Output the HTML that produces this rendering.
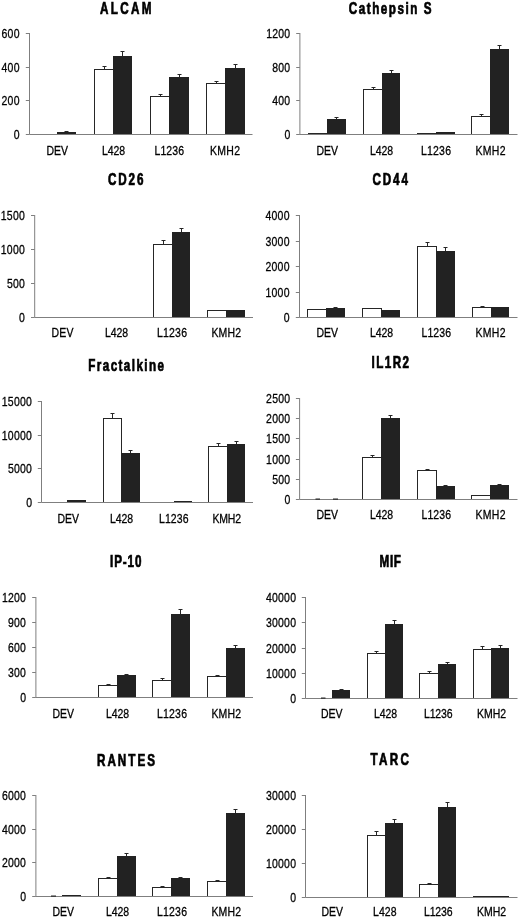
<!DOCTYPE html>
<html><head><meta charset="utf-8"><title>Figure</title>
<style>
html,body{margin:0;padding:0;background:#fff;}
body{width:520px;height:918px;overflow:hidden;font-family:"Liberation Sans",sans-serif;}
svg{display:block;will-change:transform;}
.t{font-family:"Liberation Sans",sans-serif;font-weight:bold;font-size:16px;fill:#000;stroke:#000;stroke-width:0.7px;}
.l{font-family:"Liberation Sans",sans-serif;font-size:13.1px;fill:#000;stroke:#000;stroke-width:0.3px;}
</style></head><body>
<svg width="520" height="918" viewBox="0 0 520 918">
<rect width="520" height="918" fill="#fff"/>

<!-- ALCAM -->
<g>
<text class="t" transform="translate(100 14) scale(0.73 1)" textLength="70.55" lengthAdjust="spacing">ALCAM</text>
<rect x="57" y="132" width="19" height="3" fill="#222222"/>
<path d="M66.5 132 V131 M64.5 131.5 H68.5" stroke="#262626" stroke-width="1" fill="none"/>
<rect x="94.5" y="69.5" width="19" height="65" fill="#fff" stroke="#262626" stroke-width="1"/>
<path d="M104.5 69 V66 M102.5 66.5 H106.5" stroke="#262626" stroke-width="1" fill="none"/>
<rect x="113" y="56" width="19" height="79" fill="#222222"/>
<path d="M122.5 56 V51 M120.5 51.5 H124.5" stroke="#262626" stroke-width="1" fill="none"/>
<rect x="150.5" y="96.5" width="19" height="38" fill="#fff" stroke="#262626" stroke-width="1"/>
<path d="M160.5 96 V94 M158.5 94.5 H162.5" stroke="#262626" stroke-width="1" fill="none"/>
<rect x="169" y="77" width="20" height="58" fill="#222222"/>
<path d="M179.5 77 V74 M177.5 74.5 H181.5" stroke="#262626" stroke-width="1" fill="none"/>
<rect x="206.5" y="83.5" width="19" height="51" fill="#fff" stroke="#262626" stroke-width="1"/>
<path d="M216.5 83 V81 M214.5 81.5 H218.5" stroke="#262626" stroke-width="1" fill="none"/>
<rect x="225" y="68" width="20" height="67" fill="#222222"/>
<path d="M235.5 68 V64 M233.5 64.5 H237.5" stroke="#262626" stroke-width="1" fill="none"/>
<path d="M29.5 33 V134.5 H252.5" stroke="#7f7f7f" stroke-width="1" fill="none"/>
<text class="l" transform="translate(13.8 139) scale(0.8 1)" textLength="7.12" lengthAdjust="spacing">0</text>
<text class="l" transform="translate(1.6 105) scale(0.8 1)" textLength="22.37" lengthAdjust="spacing">200</text>
<text class="l" transform="translate(1.6 72) scale(0.8 1)" textLength="22.37" lengthAdjust="spacing">400</text>
<text class="l" transform="translate(1.6 38) scale(0.8 1)" textLength="22.37" lengthAdjust="spacing">600</text>
<path d="M25.8 134.5H29.5 M25.8 100.5H29.5 M25.8 67.5H29.5 M25.8 33.5H29.5" stroke="#7f7f7f" stroke-width="1" fill="none"/>
<text class="l" transform="translate(46.5 154.5) scale(0.8 1)" textLength="26.88" lengthAdjust="spacing">DEV</text>
<text class="l" transform="translate(102 154.5) scale(0.8 1)" textLength="28.75" lengthAdjust="spacing">L428</text>
<text class="l" transform="translate(154.5 154.5) scale(0.8 1)" textLength="36.88" lengthAdjust="spacing">L1236</text>
<text class="l" transform="translate(210 154.5) scale(0.8 1)" textLength="37.5" lengthAdjust="spacing">KMH2</text>
</g>
<!-- Cathepsin S -->
<g>
<text class="t" transform="translate(348.8 13.6) scale(0.73 1)" textLength="113.29" lengthAdjust="spacing">Cathepsin S</text>
<rect x="308.5" y="133.5" width="19" height="1" fill="#fff" stroke="#262626" stroke-width="1"/>
<rect x="327" y="119" width="19" height="16" fill="#222222"/>
<path d="M336.5 119 V117 M334.5 117.5 H338.5" stroke="#262626" stroke-width="1" fill="none"/>
<rect x="363.5" y="89.5" width="19" height="45" fill="#fff" stroke="#262626" stroke-width="1"/>
<path d="M373.5 89 V87 M371.5 87.5 H375.5" stroke="#262626" stroke-width="1" fill="none"/>
<rect x="382" y="73" width="18" height="62" fill="#222222"/>
<path d="M391.5 73 V70 M389.5 70.5 H393.5" stroke="#262626" stroke-width="1" fill="none"/>
<rect x="417.5" y="133.5" width="19" height="1" fill="#fff" stroke="#262626" stroke-width="1"/>
<rect x="436" y="132" width="19" height="3" fill="#222222"/>
<rect x="471.5" y="116.5" width="19" height="18" fill="#fff" stroke="#262626" stroke-width="1"/>
<path d="M481.5 116 V114 M479.5 114.5 H483.5" stroke="#262626" stroke-width="1" fill="none"/>
<rect x="490" y="49" width="19" height="86" fill="#222222"/>
<path d="M499.5 49 V45 M497.5 45.5 H501.5" stroke="#262626" stroke-width="1" fill="none"/>
<path d="M299.9 33 V134.5 H517.5" stroke="#7f7f7f" stroke-width="1" fill="none"/>
<text class="l" transform="translate(284.5 139) scale(0.8 1)" textLength="7.12" lengthAdjust="spacing">0</text>
<text class="l" transform="translate(272.3 105) scale(0.8 1)" textLength="22.37" lengthAdjust="spacing">400</text>
<text class="l" transform="translate(272.3 72) scale(0.8 1)" textLength="22.37" lengthAdjust="spacing">800</text>
<text class="l" transform="translate(266.2 38) scale(0.8 1)" textLength="30" lengthAdjust="spacing">1200</text>
<path d="M296.2 134.5H299.9 M296.2 100.5H299.9 M296.2 67.5H299.9 M296.2 33.5H299.9" stroke="#7f7f7f" stroke-width="1" fill="none"/>
<text class="l" transform="translate(316.5 154.5) scale(0.8 1)" textLength="26.88" lengthAdjust="spacing">DEV</text>
<text class="l" transform="translate(370 154.5) scale(0.8 1)" textLength="28.75" lengthAdjust="spacing">L428</text>
<text class="l" transform="translate(421 154.5) scale(0.8 1)" textLength="37.5" lengthAdjust="spacing">L1236</text>
<text class="l" transform="translate(475.5 154.5) scale(0.8 1)" textLength="37.5" lengthAdjust="spacing">KMH2</text>
</g>
<!-- CD26 -->
<g>
<text class="t" transform="translate(108 184.5) scale(0.73 1)" textLength="48.63" lengthAdjust="spacing">CD26</text>
<rect x="153.5" y="244.5" width="19" height="73" fill="#fff" stroke="#262626" stroke-width="1"/>
<path d="M163.5 244 V240 M161.5 240.5 H165.5" stroke="#262626" stroke-width="1" fill="none"/>
<rect x="172" y="232" width="18" height="86" fill="#222222"/>
<path d="M181.5 232 V228 M179.5 228.5 H183.5" stroke="#262626" stroke-width="1" fill="none"/>
<rect x="207.5" y="310.5" width="19" height="7" fill="#fff" stroke="#262626" stroke-width="1"/>
<rect x="226" y="310" width="19" height="8" fill="#222222"/>
<path d="M34.7 215 V317.5 H253" stroke="#7f7f7f" stroke-width="1" fill="none"/>
<text class="l" transform="translate(19.1 322) scale(0.8 1)" textLength="7.12" lengthAdjust="spacing">0</text>
<text class="l" transform="translate(6.9 288) scale(0.8 1)" textLength="22.37" lengthAdjust="spacing">500</text>
<text class="l" transform="translate(0.8 254) scale(0.8 1)" textLength="30" lengthAdjust="spacing">1000</text>
<text class="l" transform="translate(0.8 220) scale(0.8 1)" textLength="30" lengthAdjust="spacing">1500</text>
<path d="M31 317.5H34.7 M31 283.5H34.7 M31 249.5H34.7 M31 215.5H34.7" stroke="#7f7f7f" stroke-width="1" fill="none"/>
<text class="l" transform="translate(51.5 337) scale(0.8 1)" textLength="27.5" lengthAdjust="spacing">DEV</text>
<text class="l" transform="translate(105 337) scale(0.8 1)" textLength="28.75" lengthAdjust="spacing">L428</text>
<text class="l" transform="translate(157 337) scale(0.8 1)" textLength="37.5" lengthAdjust="spacing">L1236</text>
<text class="l" transform="translate(211.5 337) scale(0.8 1)" textLength="36.88" lengthAdjust="spacing">KMH2</text>
</g>
<!-- CD44 -->
<g>
<text class="t" transform="translate(372.5 184.5) scale(0.73 1)" textLength="48.63" lengthAdjust="spacing">CD44</text>
<rect x="307.5" y="309.5" width="19" height="8" fill="#fff" stroke="#262626" stroke-width="1"/>
<rect x="326" y="308" width="19" height="10" fill="#222222"/>
<path d="M335.5 308 V307 M333.5 307.5 H337.5" stroke="#262626" stroke-width="1" fill="none"/>
<rect x="362.5" y="308.5" width="19" height="9" fill="#fff" stroke="#262626" stroke-width="1"/>
<rect x="381" y="310" width="19" height="8" fill="#222222"/>
<rect x="417.5" y="246.5" width="19" height="71" fill="#fff" stroke="#262626" stroke-width="1"/>
<path d="M427.5 246 V242 M425.5 242.5 H429.5" stroke="#262626" stroke-width="1" fill="none"/>
<rect x="436" y="251" width="19" height="67" fill="#222222"/>
<path d="M445.5 251 V247 M443.5 247.5 H447.5" stroke="#262626" stroke-width="1" fill="none"/>
<rect x="472.5" y="307.5" width="19" height="10" fill="#fff" stroke="#262626" stroke-width="1"/>
<path d="M482.5 307 V306 M480.5 306.5 H484.5" stroke="#262626" stroke-width="1" fill="none"/>
<rect x="491" y="307" width="18" height="11" fill="#222222"/>
<path d="M299.5 215 V317.5 H517.5" stroke="#7f7f7f" stroke-width="1" fill="none"/>
<text class="l" transform="translate(283.8 322) scale(0.8 1)" textLength="7.12" lengthAdjust="spacing">0</text>
<text class="l" transform="translate(265.5 297) scale(0.8 1)" textLength="30" lengthAdjust="spacing">1000</text>
<text class="l" transform="translate(265.5 271) scale(0.8 1)" textLength="30" lengthAdjust="spacing">2000</text>
<text class="l" transform="translate(265.5 246) scale(0.8 1)" textLength="30" lengthAdjust="spacing">3000</text>
<text class="l" transform="translate(265.5 220) scale(0.8 1)" textLength="30" lengthAdjust="spacing">4000</text>
<path d="M295.8 317.5H299.5 M295.8 292.5H299.5 M295.8 266.5H299.5 M295.8 241.5H299.5 M295.8 215.5H299.5" stroke="#7f7f7f" stroke-width="1" fill="none"/>
<text class="l" transform="translate(316.5 337) scale(0.8 1)" textLength="26.88" lengthAdjust="spacing">DEV</text>
<text class="l" transform="translate(370 337) scale(0.8 1)" textLength="28.75" lengthAdjust="spacing">L428</text>
<text class="l" transform="translate(421.5 337) scale(0.8 1)" textLength="36.88" lengthAdjust="spacing">L1236</text>
<text class="l" transform="translate(475.5 337) scale(0.8 1)" textLength="37.5" lengthAdjust="spacing">KMH2</text>
</g>
<!-- Fractalkine -->
<g>
<text class="t" transform="translate(88.3 370.6) scale(0.73 1)" textLength="103.7" lengthAdjust="spacing">Fractalkine</text>
<rect x="67" y="500" width="19" height="3" fill="#222222"/>
<rect x="103.5" y="418.5" width="18" height="84" fill="#fff" stroke="#262626" stroke-width="1"/>
<path d="M112.5 418 V413 M110.5 413.5 H114.5" stroke="#262626" stroke-width="1" fill="none"/>
<rect x="121" y="453" width="19" height="50" fill="#222222"/>
<path d="M130.5 453 V450 M128.5 450.5 H132.5" stroke="#262626" stroke-width="1" fill="none"/>
<rect x="174" y="501" width="18" height="2" fill="#222222"/>
<rect x="208.5" y="446.5" width="19" height="56" fill="#fff" stroke="#262626" stroke-width="1"/>
<path d="M218.5 446 V443 M216.5 443.5 H220.5" stroke="#262626" stroke-width="1" fill="none"/>
<rect x="227" y="444" width="18" height="59" fill="#222222"/>
<path d="M236.5 444 V441 M234.5 441.5 H238.5" stroke="#262626" stroke-width="1" fill="none"/>
<path d="M41.5 401 V502.5 H253" stroke="#7f7f7f" stroke-width="1" fill="none"/>
<text class="l" transform="translate(26.2 507) scale(0.8 1)" textLength="7.12" lengthAdjust="spacing">0</text>
<text class="l" transform="translate(7.9 473) scale(0.8 1)" textLength="30" lengthAdjust="spacing">5000</text>
<text class="l" transform="translate(1.8 440) scale(0.8 1)" textLength="37.62" lengthAdjust="spacing">10000</text>
<text class="l" transform="translate(1.8 406) scale(0.8 1)" textLength="37.62" lengthAdjust="spacing">15000</text>
<path d="M37.8 502.5H41.5 M37.8 468.5H41.5 M37.8 435.5H41.5 M37.8 401.5H41.5" stroke="#7f7f7f" stroke-width="1" fill="none"/>
<text class="l" transform="translate(57.5 523) scale(0.8 1)" textLength="26.88" lengthAdjust="spacing">DEV</text>
<text class="l" transform="translate(110 523) scale(0.8 1)" textLength="28.75" lengthAdjust="spacing">L428</text>
<text class="l" transform="translate(159 523) scale(0.8 1)" textLength="36.88" lengthAdjust="spacing">L1236</text>
<text class="l" transform="translate(212.5 523) scale(0.8 1)" textLength="35.62" lengthAdjust="spacing">KMH2</text>
</g>
<!-- IL1R2 -->
<g>
<text class="t" transform="translate(371.5 367.5) scale(0.73 1)" textLength="51.37" lengthAdjust="spacing">IL1R2</text>
<rect x="362.5" y="457.5" width="19" height="42" fill="#fff" stroke="#262626" stroke-width="1"/>
<path d="M372.5 457 V455 M370.5 455.5 H374.5" stroke="#262626" stroke-width="1" fill="none"/>
<rect x="381" y="418" width="19" height="82" fill="#222222"/>
<path d="M390.5 418 V415 M388.5 415.5 H392.5" stroke="#262626" stroke-width="1" fill="none"/>
<rect x="417.5" y="470.5" width="19" height="29" fill="#fff" stroke="#262626" stroke-width="1"/>
<path d="M427.5 470 V469 M425.5 469.5 H429.5" stroke="#262626" stroke-width="1" fill="none"/>
<rect x="436" y="486" width="19" height="14" fill="#222222"/>
<path d="M445.5 486 V485 M443.5 485.5 H447.5" stroke="#262626" stroke-width="1" fill="none"/>
<rect x="471.5" y="495.5" width="19" height="4" fill="#fff" stroke="#262626" stroke-width="1"/>
<rect x="490" y="485" width="19" height="15" fill="#222222"/>
<path d="M499.5 485 V484 M497.5 484.5 H501.5" stroke="#262626" stroke-width="1" fill="none"/>
<path d="M299.6 398 V499.5 H517.5" stroke="#7f7f7f" stroke-width="1" fill="none"/>
<text class="l" transform="translate(284.4 504) scale(0.8 1)" textLength="7.12" lengthAdjust="spacing">0</text>
<text class="l" transform="translate(272.2 484) scale(0.8 1)" textLength="22.37" lengthAdjust="spacing">500</text>
<text class="l" transform="translate(266.1 464) scale(0.8 1)" textLength="30" lengthAdjust="spacing">1000</text>
<text class="l" transform="translate(266.1 443) scale(0.8 1)" textLength="30" lengthAdjust="spacing">1500</text>
<text class="l" transform="translate(266.1 423) scale(0.8 1)" textLength="30" lengthAdjust="spacing">2000</text>
<text class="l" transform="translate(266.1 403) scale(0.8 1)" textLength="30" lengthAdjust="spacing">2500</text>
<path d="M295.9 499.5H299.6 M295.9 479.5H299.6 M295.9 459.5H299.6 M295.9 438.5H299.6 M295.9 418.5H299.6 M295.9 398.5H299.6" stroke="#7f7f7f" stroke-width="1" fill="none"/>
<path d="M315.5 499.1H320" stroke="#262626" stroke-width="1.2" fill="none"/>
<path d="M333 499.1H338" stroke="#262626" stroke-width="1.2" fill="none"/>
<text class="l" transform="translate(316.5 519) scale(0.8 1)" textLength="26.88" lengthAdjust="spacing">DEV</text>
<text class="l" transform="translate(370 519) scale(0.8 1)" textLength="28.75" lengthAdjust="spacing">L428</text>
<text class="l" transform="translate(421.5 519) scale(0.8 1)" textLength="36.88" lengthAdjust="spacing">L1236</text>
<text class="l" transform="translate(475.5 519) scale(0.8 1)" textLength="37.5" lengthAdjust="spacing">KMH2</text>
</g>
<!-- IP-10 -->
<g>
<text class="t" transform="translate(110 566.5) scale(0.73 1)" textLength="43.15" lengthAdjust="spacing">IP-10</text>
<rect x="98.5" y="685.5" width="19" height="12" fill="#fff" stroke="#262626" stroke-width="1"/>
<path d="M108.5 685 V684 M106.5 684.5 H110.5" stroke="#262626" stroke-width="1" fill="none"/>
<rect x="117" y="675" width="19" height="23" fill="#222222"/>
<path d="M126.5 675 V674 M124.5 674.5 H128.5" stroke="#262626" stroke-width="1" fill="none"/>
<rect x="152.5" y="680.5" width="19" height="17" fill="#fff" stroke="#262626" stroke-width="1"/>
<path d="M162.5 680 V678 M160.5 678.5 H164.5" stroke="#262626" stroke-width="1" fill="none"/>
<rect x="171" y="614" width="19" height="84" fill="#222222"/>
<path d="M180.5 614 V609 M178.5 609.5 H182.5" stroke="#262626" stroke-width="1" fill="none"/>
<rect x="207.5" y="676.5" width="19" height="21" fill="#fff" stroke="#262626" stroke-width="1"/>
<path d="M217.5 676 V675 M215.5 675.5 H219.5" stroke="#262626" stroke-width="1" fill="none"/>
<rect x="226" y="648" width="19" height="50" fill="#222222"/>
<path d="M235.5 648 V645 M233.5 645.5 H237.5" stroke="#262626" stroke-width="1" fill="none"/>
<path d="M35.9 597 V697.5 H253" stroke="#7f7f7f" stroke-width="1" fill="none"/>
<text class="l" transform="translate(20.2 702) scale(0.8 1)" textLength="7.12" lengthAdjust="spacing">0</text>
<text class="l" transform="translate(8 677) scale(0.8 1)" textLength="22.37" lengthAdjust="spacing">300</text>
<text class="l" transform="translate(8 652) scale(0.8 1)" textLength="22.37" lengthAdjust="spacing">600</text>
<text class="l" transform="translate(8 627) scale(0.8 1)" textLength="22.37" lengthAdjust="spacing">900</text>
<text class="l" transform="translate(1.9 602) scale(0.8 1)" textLength="30" lengthAdjust="spacing">1200</text>
<path d="M32.2 697.5H35.9 M32.2 672.5H35.9 M32.2 647.5H35.9 M32.2 622.5H35.9 M32.2 597.5H35.9" stroke="#7f7f7f" stroke-width="1" fill="none"/>
<text class="l" transform="translate(52.5 717.5) scale(0.8 1)" textLength="26.88" lengthAdjust="spacing">DEV</text>
<text class="l" transform="translate(106 717.5) scale(0.8 1)" textLength="28.75" lengthAdjust="spacing">L428</text>
<text class="l" transform="translate(157 717.5) scale(0.8 1)" textLength="37.5" lengthAdjust="spacing">L1236</text>
<text class="l" transform="translate(211.5 717.5) scale(0.8 1)" textLength="36.88" lengthAdjust="spacing">KMH2</text>
</g>
<!-- MIF -->
<g>
<text class="t" transform="translate(379.5 566.5) scale(0.73 1)" textLength="29.45" lengthAdjust="spacing">MIF</text>
<rect x="332" y="690" width="18" height="9" fill="#222222"/>
<path d="M341.5 690 V689 M339.5 689.5 H343.5" stroke="#262626" stroke-width="1" fill="none"/>
<rect x="367.5" y="653.5" width="18" height="45" fill="#fff" stroke="#262626" stroke-width="1"/>
<path d="M376.5 653 V651 M374.5 651.5 H378.5" stroke="#262626" stroke-width="1" fill="none"/>
<rect x="385" y="624" width="18" height="75" fill="#222222"/>
<path d="M394.5 624 V620 M392.5 620.5 H396.5" stroke="#262626" stroke-width="1" fill="none"/>
<rect x="419.5" y="673.5" width="19" height="25" fill="#fff" stroke="#262626" stroke-width="1"/>
<path d="M429.5 673 V671 M427.5 671.5 H431.5" stroke="#262626" stroke-width="1" fill="none"/>
<rect x="438" y="664" width="18" height="35" fill="#222222"/>
<path d="M447.5 664 V662 M445.5 662.5 H449.5" stroke="#262626" stroke-width="1" fill="none"/>
<rect x="473.5" y="649.5" width="18" height="49" fill="#fff" stroke="#262626" stroke-width="1"/>
<path d="M482.5 649 V646 M480.5 646.5 H484.5" stroke="#262626" stroke-width="1" fill="none"/>
<rect x="491" y="648" width="18" height="51" fill="#222222"/>
<path d="M500.5 648 V645 M498.5 645.5 H502.5" stroke="#262626" stroke-width="1" fill="none"/>
<path d="M305.5 597 V698.5 H517.5" stroke="#7f7f7f" stroke-width="1" fill="none"/>
<text class="l" transform="translate(290.3 703) scale(0.8 1)" textLength="7.12" lengthAdjust="spacing">0</text>
<text class="l" transform="translate(265.9 678) scale(0.8 1)" textLength="37.63" lengthAdjust="spacing">10000</text>
<text class="l" transform="translate(265.9 653) scale(0.8 1)" textLength="37.63" lengthAdjust="spacing">20000</text>
<text class="l" transform="translate(265.9 627) scale(0.8 1)" textLength="37.63" lengthAdjust="spacing">30000</text>
<text class="l" transform="translate(265.9 602) scale(0.8 1)" textLength="37.63" lengthAdjust="spacing">40000</text>
<path d="M301.8 698.5H305.5 M301.8 673.5H305.5 M301.8 648.5H305.5 M301.8 622.5H305.5 M301.8 597.5H305.5" stroke="#7f7f7f" stroke-width="1" fill="none"/>
<path d="M321 698.1H325.5" stroke="#262626" stroke-width="1.2" fill="none"/>
<text class="l" transform="translate(321 718) scale(0.8 1)" textLength="26.88" lengthAdjust="spacing">DEV</text>
<text class="l" transform="translate(374 718) scale(0.8 1)" textLength="28.75" lengthAdjust="spacing">L428</text>
<text class="l" transform="translate(424 718) scale(0.8 1)" textLength="35.62" lengthAdjust="spacing">L1236</text>
<text class="l" transform="translate(477 718) scale(0.8 1)" textLength="36.25" lengthAdjust="spacing">KMH2</text>
</g>
<!-- RANTES -->
<g>
<text class="t" transform="translate(97 765.5) scale(0.73 1)" textLength="79.45" lengthAdjust="spacing">RANTES</text>
<rect x="62" y="895" width="19" height="2" fill="#222222"/>
<rect x="98.5" y="878.5" width="19" height="18" fill="#fff" stroke="#262626" stroke-width="1"/>
<path d="M108.5 878 V877 M106.5 877.5 H110.5" stroke="#262626" stroke-width="1" fill="none"/>
<rect x="117" y="856" width="19" height="41" fill="#222222"/>
<path d="M126.5 856 V853 M124.5 853.5 H128.5" stroke="#262626" stroke-width="1" fill="none"/>
<rect x="152.5" y="887.5" width="19" height="9" fill="#fff" stroke="#262626" stroke-width="1"/>
<path d="M162.5 887 V886 M160.5 886.5 H164.5" stroke="#262626" stroke-width="1" fill="none"/>
<rect x="171" y="878" width="19" height="19" fill="#222222"/>
<path d="M180.5 878 V877 M178.5 877.5 H182.5" stroke="#262626" stroke-width="1" fill="none"/>
<rect x="207.5" y="881.5" width="19" height="15" fill="#fff" stroke="#262626" stroke-width="1"/>
<path d="M217.5 881 V880 M215.5 880.5 H219.5" stroke="#262626" stroke-width="1" fill="none"/>
<rect x="226" y="813" width="19" height="84" fill="#222222"/>
<path d="M235.5 813 V809 M233.5 809.5 H237.5" stroke="#262626" stroke-width="1" fill="none"/>
<path d="M35.9 795 V896.5 H253" stroke="#7f7f7f" stroke-width="1" fill="none"/>
<text class="l" transform="translate(20.2 901) scale(0.8 1)" textLength="7.12" lengthAdjust="spacing">0</text>
<text class="l" transform="translate(1.9 867) scale(0.8 1)" textLength="30" lengthAdjust="spacing">2000</text>
<text class="l" transform="translate(1.9 834) scale(0.8 1)" textLength="30" lengthAdjust="spacing">4000</text>
<text class="l" transform="translate(1.9 800) scale(0.8 1)" textLength="30" lengthAdjust="spacing">6000</text>
<path d="M32.2 896.5H35.9 M32.2 862.5H35.9 M32.2 829.5H35.9 M32.2 795.5H35.9" stroke="#7f7f7f" stroke-width="1" fill="none"/>
<path d="M51 896.1H56" stroke="#262626" stroke-width="1.2" fill="none"/>
<text class="l" transform="translate(52.5 915.9) scale(0.8 1)" textLength="26.88" lengthAdjust="spacing">DEV</text>
<text class="l" transform="translate(106 915.9) scale(0.8 1)" textLength="28.75" lengthAdjust="spacing">L428</text>
<text class="l" transform="translate(157 915.9) scale(0.8 1)" textLength="37.5" lengthAdjust="spacing">L1236</text>
<text class="l" transform="translate(211.5 915.9) scale(0.8 1)" textLength="36.88" lengthAdjust="spacing">KMH2</text>
</g>
<!-- TARC -->
<g>
<text class="t" transform="translate(370.5 764.5) scale(0.73 1)" textLength="52.74" lengthAdjust="spacing">TARC</text>
<rect x="367.5" y="835.5" width="18" height="62" fill="#fff" stroke="#262626" stroke-width="1"/>
<path d="M376.5 835 V831 M374.5 831.5 H378.5" stroke="#262626" stroke-width="1" fill="none"/>
<rect x="385" y="823" width="18" height="75" fill="#222222"/>
<path d="M394.5 823 V819 M392.5 819.5 H396.5" stroke="#262626" stroke-width="1" fill="none"/>
<rect x="419.5" y="884.5" width="19" height="13" fill="#fff" stroke="#262626" stroke-width="1"/>
<path d="M429.5 884 V883 M427.5 883.5 H431.5" stroke="#262626" stroke-width="1" fill="none"/>
<rect x="438" y="807" width="18" height="91" fill="#222222"/>
<path d="M447.5 807 V802 M445.5 802.5 H449.5" stroke="#262626" stroke-width="1" fill="none"/>
<rect x="473.5" y="896.5" width="18" height="1" fill="#fff" stroke="#262626" stroke-width="1"/>
<rect x="491" y="896" width="18" height="2" fill="#222222"/>
<path d="M305.5 795 V897.5 H517.5" stroke="#7f7f7f" stroke-width="1" fill="none"/>
<text class="l" transform="translate(290.3 902) scale(0.8 1)" textLength="7.12" lengthAdjust="spacing">0</text>
<text class="l" transform="translate(265.9 868) scale(0.8 1)" textLength="37.63" lengthAdjust="spacing">10000</text>
<text class="l" transform="translate(265.9 834) scale(0.8 1)" textLength="37.63" lengthAdjust="spacing">20000</text>
<text class="l" transform="translate(265.9 800) scale(0.8 1)" textLength="37.63" lengthAdjust="spacing">30000</text>
<path d="M301.8 897.5H305.5 M301.8 863.5H305.5 M301.8 829.5H305.5 M301.8 795.5H305.5" stroke="#7f7f7f" stroke-width="1" fill="none"/>
<text class="l" transform="translate(321.5 916.4) scale(0.8 1)" textLength="26.88" lengthAdjust="spacing">DEV</text>
<text class="l" transform="translate(373 916.4) scale(0.8 1)" textLength="29.38" lengthAdjust="spacing">L428</text>
<text class="l" transform="translate(424 916.4) scale(0.8 1)" textLength="35.62" lengthAdjust="spacing">L1236</text>
<text class="l" transform="translate(477 916.4) scale(0.8 1)" textLength="36.25" lengthAdjust="spacing">KMH2</text>
</g>
</svg></body></html>
